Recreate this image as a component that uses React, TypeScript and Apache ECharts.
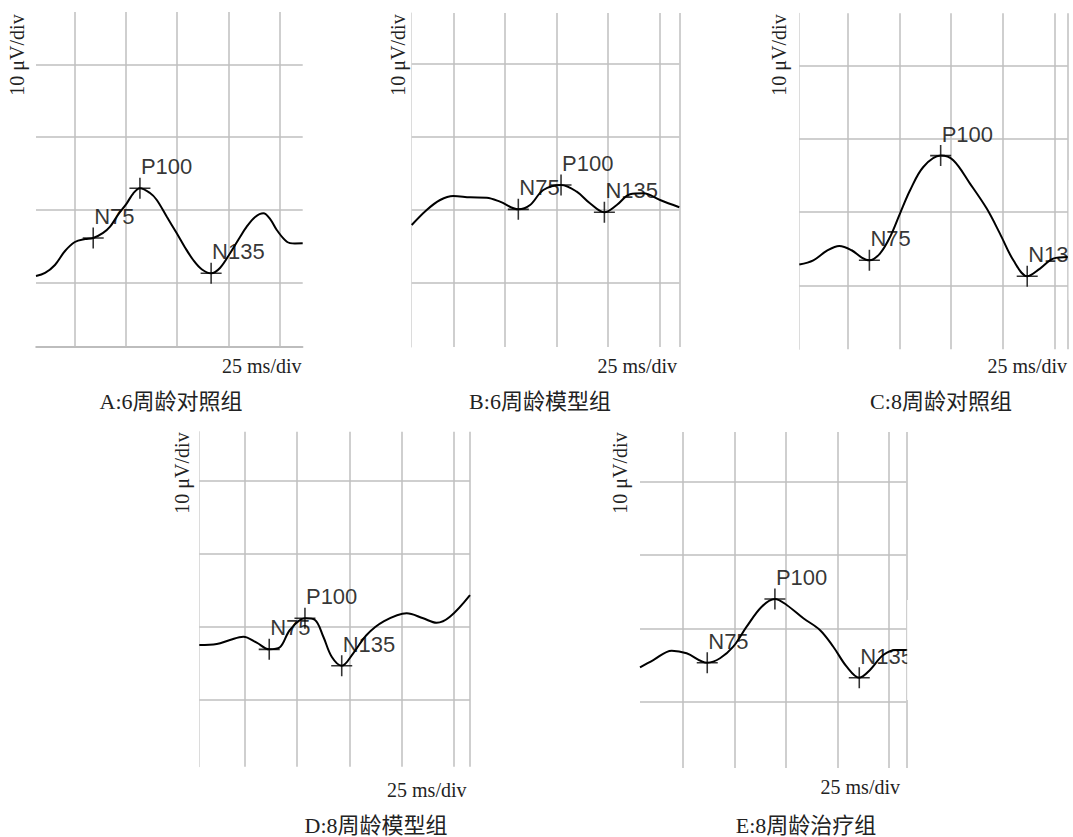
import React, { useEffect, useRef } from "react";
import * as echarts from "echarts";

// ---------- data (ms, μV) ----------
const captions = ["A:6周龄对照组", "B:6周龄模型组", "C:8周龄对照组", "D:8周龄模型组", "E:8周龄治疗组"];
const yUnitLabel = "10 μV/div";
const xUnitLabel = "25 ms/div";
const peakNames = ["N75", "P100", "N135"];

const xA = [6.4, 10.8, 15.6, 20.5, 25.3, 30.2, 34.2, 39.0, 42.4, 46.2, 50.5, 53.7, 56.9, 61.8, 65.1, 69.9, 74.8, 78.8, 82.8, 86.9, 91.5, 95.8, 100.7, 104.8, 108.8, 112.9, 116.9, 120.2, 123.4, 128.3, 132.2, 136.0];
const yA = [-9.14, -8.72, -7.62, -5.69, -4.45, -4.04, -3.9, -3.2, -2.34, -0.73, 0.88, 2.26, 2.95, 2.3, 1.34, -0.95, -3.25, -5.2, -6.93, -8.2, -8.76, -8.03, -6.0, -4.1, -2.34, -1.0, -0.5, -1.3, -2.8, -4.41, -4.65, -4.63];
const peaksA = [[34.2, -3.9], [56.9, 2.95], [91.5, -8.76]];

const xB = [4.84, 12.1, 18.6, 25.0, 33.1, 41.2, 47.6, 56.5, 62.2, 68.6, 77.2, 84.8, 91.2, 98.2, 104.2, 110.6, 117.1, 125.2, 134.5];
const yB = [-2.1, -0.04, 1.33, 1.88, 1.7, 1.64, 1.1, 0.05, 0.64, 2.7, 3.38, 2.47, 0.88, -0.36, 0.64, 2.11, 2.25, 1.33, 0.33];
const peaksB = [[56.5, 0.05], [77.2, 3.38], [98.2, -0.36]];

const xC = [1.57, 8.35, 14.8, 20.9, 26.9, 31.8, 35.5, 40.6, 45.5, 50.3, 55.2, 61.6, 70.0, 76.1, 84.2, 92.3, 98.7, 105.2, 111.9, 118.1, 124.5, 131.5];
const yC = [-7.17, -6.59, -5.32, -4.64, -5.22, -6.22, -6.59, -5.67, -3.41, -0.22, 2.96, 6.14, 7.69, 7.05, 3.87, 0.46, -2.95, -6.59, -8.77, -7.72, -6.36, -6.14];
const peaksC = [[35.5, -6.59], [70.0, 7.69], [111.9, -8.77]];

const xD = [3.13, 11.5, 17.8, 24.2, 30.6, 36.6, 41.7, 46.5, 53.7, 58.5, 62.5, 66.5, 71.3, 76.8, 83.2, 91.2, 102.4, 110.3, 116.7, 123.1, 132.7];
const yD = [-2.47, -2.33, -1.78, -1.33, -2.15, -3.06, -2.78, -0.41, 1.19, 0.96, -1.33, -4.07, -5.3, -3.6, -1.1, 0.73, 1.88, 1.19, 0.59, 1.41, 4.38];
const peaksD = [[36.6, -3.06], [53.7, 1.19], [71.3, -5.3]];

const xE = [4.3, 10.75, 19.7, 26.9, 36.9, 43.1, 49.5, 56.0, 63.3, 69.7, 75.4, 83.5, 91.5, 98.0, 104.5, 110.6, 115.8, 122.2, 128.7, 133.4];
const yE = [-5.34, -4.34, -3.06, -3.42, -4.71, -4.1, -2.52, 0.22, 2.95, 4.01, 3.19, 1.37, -0.23, -2.52, -5.25, -6.76, -5.7, -3.65, -2.97, -2.97];
const peaksE = [[36.9, -4.71], [69.7, 4.01], [110.6, -6.76]];

const xGridTicks = [25, 50, 75, 100, 125];
const yGridTicks = [20, 10, 0, -10];
const xRanges = [[6.4, 136.0], [4.84, 134.5], [1.57, 131.5], [3.13, 132.7], [4.3, 133.4]];
const yRanges = [[-18.92, 27.24], [-18.81, 26.95], [-18.73, 27.1], [-19.14, 26.76], [-19.11, 26.85]];

const curvesX = [xA, xB, xC, xD, xE];
const curvesY = [yA, yB, yC, yD, yE];
const peaks = [peaksA, peaksB, peaksC, peaksD, peaksE];

// ---------- layout ----------
const layout = [
  { left: 36, top: 12, width: 266.7, height: 335, yl: [17, 55], xl: [301.5, 366], cap: [171, 401], leftLine: false, bottomLine: true, rightLine: false },
  { left: 411.7, top: 13, width: 267.6, height: 334, yl: [398, 55], xl: [677, 366], cap: [540, 401], leftLine: true, bottomLine: false, rightLine: true },
  { left: 799.3, top: 13.3, width: 268.4, height: 336, yl: [778.5, 55], xl: [1067, 366], cap: [941, 401], leftLine: true, bottomLine: false, rightLine: true },
  { left: 199.3, top: 431.7, width: 270.7, height: 335, yl: [182, 473], xl: [466.5, 790], cap: [376, 825], leftLine: true, bottomLine: false, rightLine: true },
  { left: 640, top: 432, width: 266.3, height: 336, yl: [620, 473], xl: [900, 787], cap: [806, 825], leftLine: false, bottomLine: false, rightLine: true },
];

const GRID_COLOR = "#bfbfbf";
const SERIF = "'Liberation Serif', 'DejaVu Serif', serif";
const SANS = "'Liberation Sans', Arial, sans-serif";
const PLUS = "path://M0,9.25H20V10.75H0Z M9.25,0H10.75V20H9.25Z";

function buildOption() {
  const grid: any[] = [];
  const xAxis: any[] = [];
  const yAxis: any[] = [];
  const series: any[] = [];
  const graphic: any[] = [];

  layout.forEach((L, i) => {
    grid.push({ left: L.left, top: L.top, width: L.width, height: L.height, containLabel: false });
    xAxis.push({
      gridIndex: i, type: "value", min: xRanges[i][0], max: xRanges[i][1],
      axisLine: { show: L.bottomLine, onZero: false, lineStyle: { color: "#a8a8a8", width: 1.5 } },
      axisTick: { show: false }, axisLabel: { show: false }, splitLine: { show: false },
    });
    yAxis.push({
      gridIndex: i, type: "value", min: yRanges[i][0], max: yRanges[i][1],
      axisLine: { show: L.leftLine, onZero: false, lineStyle: { color: "#dcdcdc", width: 1 } },
      axisTick: { show: false }, axisLabel: { show: false }, splitLine: { show: false },
    });

    const lines: any[] = [];
    xGridTicks.forEach((v) => lines.push({ xAxis: v }));
    if (L.rightLine) lines.push({ xAxis: xRanges[i][1] });
    yGridTicks.forEach((v) => lines.push({ yAxis: v }));

    series.push({
      type: "line", xAxisIndex: i, yAxisIndex: i, data: [], z: 1, silent: true,
      markLine: {
        silent: true, symbol: ["none", "none"], animation: false,
        label: { show: false }, emphasis: { disabled: true },
        lineStyle: { color: GRID_COLOR, width: 1.5, type: "solid" },
        data: lines,
      },
    });

    series.push({
      type: "line", xAxisIndex: i, yAxisIndex: i, z: 10, silent: true,
      data: curvesX[i].map((x, j) => [x, curvesY[i][j]]),
      smooth: 0.35, showSymbol: false, clip: true,
      lineStyle: { color: "#000", width: 2 },
    });

    series.push({
      type: "scatter", xAxisIndex: i, yAxisIndex: i, z: 11, silent: true, clip: false,
      symbol: PLUS, symbolSize: 21, symbolKeepAspect: true,
      itemStyle: { color: "#000" },
      data: peaks[i].map((p, k) => ({ value: p, name: peakNames[k] })),
      label: {
        show: true, formatter: "{b}", position: [11.5, -11], align: "left", verticalAlign: "middle",
        fontFamily: SANS, fontSize: 22, color: "#000",
      },
    });

    graphic.push({
      type: "text", x: L.yl[0], y: L.yl[1], rotation: Math.PI / 2,
      style: { text: yUnitLabel, font: `20px ${SERIF}`, fill: "#222", textAlign: "center", textVerticalAlign: "middle" },
    });
    graphic.push({
      type: "text", x: L.xl[0], y: L.xl[1],
      style: { text: xUnitLabel, font: `20px ${SERIF}`, fill: "#222", textAlign: "right", textVerticalAlign: "middle" },
    });
    graphic.push({
      type: "text", x: L.cap[0], y: L.cap[1],
      style: { text: captions[i], font: `22px 'Liberation Serif', 'Noto Sans CJK SC', serif`, fill: "#222", textAlign: "center", textVerticalAlign: "middle" },
    });
  });

  // the reference clips the N135 labels of C and E at the plot's right edge
  graphic.push({ type: "rect", z: 100, shape: { x: 1068.6, y: 180, width: 10, height: 120 }, style: { fill: "#fff" } });
  graphic.push({ type: "rect", z: 100, shape: { x: 907.2, y: 600, width: 60, height: 100 }, style: { fill: "#fff" } });

  return { animation: false, backgroundColor: "#fff", grid, xAxis, yAxis, series, graphic };
}

export default function App() {
  const ref = useRef<HTMLDivElement>(null);
  useEffect(() => {
    if (!ref.current) return;
    const chart = echarts.init(ref.current, null, { renderer: "svg" });
    chart.setOption(buildOption() as any);
    return () => chart.dispose();
  }, []);
  return <div ref={ref} style={{ position: "fixed", left: 0, top: 0, width: 1073, height: 837 }} />;
}
